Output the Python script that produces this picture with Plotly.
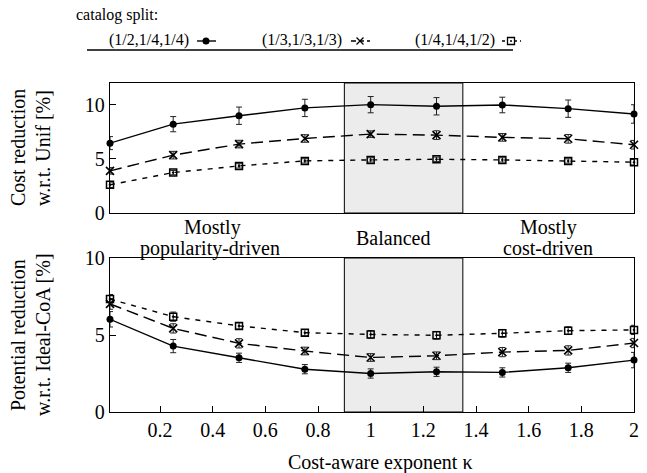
import plotly.graph_objects as go

# ---------------- data ----------------
kappa = [0.01, 0.25, 0.5, 0.75, 1.0, 1.25, 1.5, 1.75, 2.0]
series_names = ["(1/2,1/4,1/4)", "(1/3,1/3,1/3)", "(1/4,1/4,1/2)"]

cost_red_a = [6.45, 8.2, 8.98, 9.7, 10.0, 9.85, 9.97, 9.63, 9.14]
cost_red_a_err = [0.6, 0.7, 0.8, 0.8, 0.75, 0.8, 0.72, 0.8, 0.85]
cost_red_b = [3.89, 5.34, 6.36, 6.88, 7.28, 7.19, 6.98, 6.85, 6.3]
cost_red_b_err = [0.3, 0.35, 0.35, 0.35, 0.3, 0.4, 0.35, 0.4, 0.4]
cost_red_c = [2.6, 3.73, 4.35, 4.81, 4.9, 4.96, 4.9, 4.8, 4.69]
cost_red_c_err = [0.25, 0.2, 0.2, 0.2, 0.2, 0.2, 0.2, 0.2, 0.25]

pot_red_a = [6.02, 4.28, 3.52, 2.78, 2.5, 2.61, 2.57, 2.87, 3.37]
pot_red_a_err = [0.5, 0.43, 0.3, 0.3, 0.3, 0.3, 0.3, 0.3, 0.5]
pot_red_b = [7.02, 5.43, 4.46, 3.96, 3.54, 3.65, 3.89, 4.0, 4.48]
pot_red_b_err = [0.35, 0.3, 0.3, 0.25, 0.25, 0.25, 0.3, 0.3, 0.3]
pot_red_c = [7.33, 6.19, 5.59, 5.15, 5.04, 4.98, 5.11, 5.28, 5.33]
pot_red_c_err = [0.3, 0.3, 0.2, 0.2, 0.25, 0.25, 0.25, 0.25, 0.3]

balanced_region = [0.9, 1.35]
x_tickvals = [0.2, 0.4, 0.6, 0.8, 1.0, 1.2, 1.4, 1.6, 1.8, 2.0]
x_ticktext = ["0.2", "0.4", "0.6", "0.8", "1", "1.2", "1.4", "1.6", "1.8", "2"]
y_tickvals = [0, 5, 10]

# ---------------- style ----------------
FONT = "Liberation Serif"
W, H = 647, 473
styles = [
    dict(dash="solid", symbol="circle", size=7, mline=0),
    dict(dash="12px,6px", symbol="x-thin-open", size=8, mline=1.6),
    dict(dash="5px,6px", symbol="square-open-dot", size=7, mline=1.5),
]

fig = go.Figure()

top = [(cost_red_a, cost_red_a_err), (cost_red_b, cost_red_b_err), (cost_red_c, cost_red_c_err)]
bot = [(pot_red_a, pot_red_a_err), (pot_red_b, pot_red_b_err), (pot_red_c, pot_red_c_err)]

for panel, (xa, ya, data) in enumerate([("x", "y", top), ("x2", "y2", bot)]):
    for i, (vals, errs) in enumerate(data):
        st = styles[i]
        fig.add_trace(go.Scatter(
            x=kappa, y=vals, xaxis=xa, yaxis=ya,
            mode="lines+markers",
            name=series_names[i],
            showlegend=False,
            line=dict(color="black", width=1.4, dash=st["dash"]),
            marker=dict(symbol=st["symbol"], size=st["size"], color="black",
                        line=dict(color="black", width=st["mline"])),
            error_y=dict(type="data", array=errs, visible=True,
                         color="#222222", thickness=1, width=3),
            cliponaxis=False,
        ))

xdom = [110 / W, 634 / W]
top_dom = [1 - 213 / H, 1 - 83 / H]
bot_dom = [1 - 412 / H, 1 - 258 / H]

axis_common = dict(showline=True, linecolor="black", linewidth=1.3, mirror=True,
                   showgrid=False, zeroline=False, automargin=False)
tickfont = dict(family=FONT, size=20, color="black")

fig.update_layout(
    width=W, height=H,
    margin=dict(l=0, r=0, t=0, b=0, autoexpand=False),
    paper_bgcolor="white", plot_bgcolor="white",
    font=dict(family=FONT, size=20, color="black"),
    showlegend=False,
    xaxis=dict(domain=xdom, anchor="y", range=[0.01, 2.0], showticklabels=False,
               ticks="", **axis_common),
    yaxis=dict(domain=top_dom, anchor="x", range=[0, 12], tickvals=y_tickvals,
               ticks="inside", ticklen=6, tickcolor="black", tickfont=tickfont,
               **axis_common),
    xaxis2=dict(domain=xdom, anchor="y2", range=[0.01, 2.0], tickvals=x_tickvals,
                ticktext=x_ticktext, ticks="inside", ticklen=6, tickcolor="black",
                tickfont=tickfont, **axis_common),
    yaxis2=dict(domain=bot_dom, anchor="x2", range=[0, 10], tickvals=y_tickvals,
                ticks="inside", ticklen=6, tickcolor="black", tickfont=tickfont,
                **axis_common),
)

# balanced shaded region in both panels
for xr, yr in [("x", "y"), ("x2", "y2")]:
    fig.add_shape(type="rect", xref=xr, yref=f"{yr} domain",
                  x0=balanced_region[0], x1=balanced_region[1], y0=0, y1=1,
                  fillcolor="#ececec", line=dict(color="black", width=1), layer="below")


def px_x(v):
    return v / W


def px_y(v):
    return 1 - v / H


def ann(text, xpx, ypx, angle=0, size=20, xanchor="center"):
    fig.add_annotation(text=text, xref="paper", yref="paper", x=px_x(xpx), y=px_y(ypx),
                       xanchor=xanchor, yanchor="middle", showarrow=False,
                       textangle=angle, font=dict(family=FONT, size=size, color="black"))


# ---------------- custom legend (text, then line sample) ----------------
ann("catalog split:", 74, 15, size=16, xanchor="left")
legend_text_x = [107, 260, 413]
legend_sample_x = [206, 360, 511]
legend_y_text = 40
legend_y_sample = 41
for i, name in enumerate(series_names):
    ann(name, legend_text_x[i], legend_y_text, size=16, xanchor="left")
    cx = legend_sample_x[i]
    fig.add_shape(type="line", xref="paper", yref="paper",
                  x0=px_x(cx - 9), x1=px_x(cx + 10), y0=px_y(legend_y_sample), y1=px_y(legend_y_sample),
                  line=dict(color="black", width=1.4, dash=["solid", "5px,3px", "3px,3px"][i]))
    r = 3.5
    if i == 0:
        fig.add_shape(type="circle", xref="paper", yref="paper",
                      x0=px_x(cx - r), x1=px_x(cx + r), y0=px_y(legend_y_sample + r), y1=px_y(legend_y_sample - r),
                      fillcolor="black", line=dict(color="black", width=0))
    elif i == 1:
        for s in (1, -1):
            fig.add_shape(type="line", xref="paper", yref="paper",
                          x0=px_x(cx - r), x1=px_x(cx + r),
                          y0=px_y(legend_y_sample - s * r), y1=px_y(legend_y_sample + s * r),
                          line=dict(color="black", width=1.3))
    else:
        fig.add_shape(type="rect", xref="paper", yref="paper",
                      x0=px_x(cx - r), x1=px_x(cx + r), y0=px_y(legend_y_sample + r), y1=px_y(legend_y_sample - r),
                      fillcolor="white", line=dict(color="black", width=1.3))
        fig.add_shape(type="circle", xref="paper", yref="paper",
                      x0=px_x(cx - 1), x1=px_x(cx + 1), y0=px_y(legend_y_sample + 1), y1=px_y(legend_y_sample - 1),
                      fillcolor="black", line=dict(color="black", width=0))

# legend underline
fig.add_shape(type="line", xref="paper", yref="paper",
              x0=px_x(87), x1=px_x(513), y0=px_y(50), y1=px_y(50),
              line=dict(color="black", width=1.3))

# region labels
ann("Mostly", 212, 227)
ann("popularity-driven", 210, 248)
ann("Balanced", 393, 238)
ann("Mostly", 548, 227)
ann("cost-driven", 548, 248)

# axis titles
ann("Cost reduction", 18, 148, angle=-90)
ann("w.r.t. Unif [%]", 43, 148, angle=-90)
ann("Potential reduction", 18, 335, angle=-90)
ann("w.r.t. Ideal-CoA [%]", 43, 335, angle=-90)
ann("Cost-aware exponent κ", 380, 462)

fig.write_html("out.html",
               config={"displayModeBar": False},
               post_script="document.body.style.margin='0px';document.body.style.overflow='hidden';")
